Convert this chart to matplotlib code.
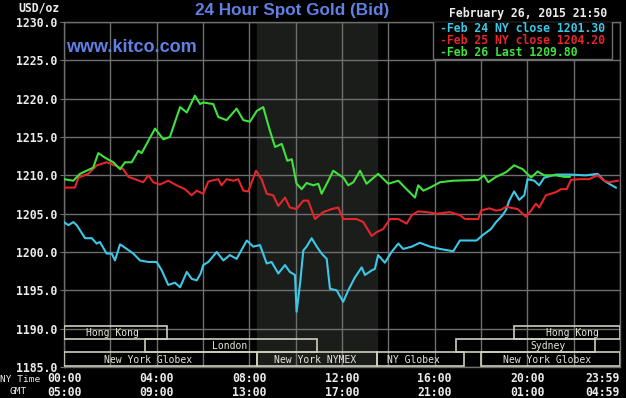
import matplotlib.pyplot as plt
import matplotlib.transforms as mtransforms
from matplotlib.patches import Rectangle

W, H = 626, 398

# --- data (hours NY time, USD/oz) ---
feb26_t = [0.0, 0.40, 0.69, 1.26, 1.48, 1.77, 2.13, 2.42, 2.63, 2.92, 3.21, 3.35, 3.93, 4.29,
           4.57, 5.01, 5.30, 5.65, 5.87, 6.01, 6.44, 6.66, 7.02, 7.45, 7.74, 8.03, 8.32, 8.60,
           8.89, 9.11, 9.40, 9.64, 9.83, 10.04, 10.26, 10.47, 10.76, 10.98, 11.12, 11.41, 11.62,
           11.91, 12.06, 12.27, 12.49, 12.78, 13.06, 13.56, 14.00, 14.43, 14.72, 15.15, 15.29,
           15.51, 15.80, 16.23, 16.80, 17.88, 18.13, 18.31, 18.65, 19.08, 19.43, 19.80, 20.16,
           20.44, 20.73, 21.23, 21.59, 21.83]
feb26_p = [1209.5, 1209.3, 1210.2, 1211.0, 1212.9, 1212.3, 1211.7, 1210.8, 1211.7, 1211.7,
           1213.2, 1212.9, 1216.1, 1214.7, 1215.0, 1218.9, 1218.2, 1220.4, 1219.3, 1219.5,
           1219.3, 1217.6, 1217.2, 1218.7, 1217.2, 1217.0, 1218.4, 1218.9, 1215.8, 1213.7,
           1214.1, 1211.9, 1212.1, 1208.9, 1208.2, 1209.0, 1208.7, 1208.9, 1207.6, 1209.3,
           1210.6, 1210.0, 1209.7, 1208.7, 1209.1, 1210.6, 1208.9, 1210.2, 1208.9, 1209.3,
           1208.4, 1207.1, 1208.7, 1208.0, 1208.4, 1209.1, 1209.3, 1209.4, 1210.0, 1209.1,
           1209.8, 1210.4, 1211.3, 1210.8, 1209.7, 1210.5, 1210.0, 1210.0, 1209.8, 1209.8]

feb25_t = [0.0, 0.47, 0.62, 1.05, 1.41, 1.84, 2.20, 2.56, 2.78, 3.06, 3.42, 3.64, 3.85, 4.14,
           4.50, 4.86, 5.22, 5.51, 5.73, 6.01, 6.23, 6.66, 6.80, 7.02, 7.31, 7.52, 7.74, 7.95,
           8.29, 8.53, 8.75, 9.03, 9.25, 9.54, 9.75, 10.04, 10.33, 10.54, 10.83, 11.19, 11.55,
           11.84, 12.05, 12.63, 12.92, 13.28, 13.50, 13.78, 14.07, 14.43, 14.79, 15.01, 15.29,
           15.65, 16.09, 16.66, 17.09, 17.31, 17.88, 18.00, 18.36, 18.65, 18.86, 19.08, 19.58,
           19.94, 20.16, 20.37, 20.51, 20.80, 21.23, 21.45, 21.70, 21.88, 22.24, 22.67, 23.03,
           23.32, 23.53, 23.91]
feb25_p = [1208.4, 1208.4, 1209.7, 1210.2, 1211.3, 1211.7, 1211.3, 1210.8, 1209.8, 1209.5,
           1209.1, 1210.0, 1209.1, 1208.8, 1209.3, 1208.7, 1208.2, 1207.4, 1208.0, 1207.6,
           1209.2, 1209.5, 1208.7, 1209.5, 1209.3, 1209.5, 1208.0, 1207.9, 1210.6, 1209.5,
           1207.6, 1207.4, 1206.0, 1207.1, 1205.8, 1205.6, 1206.7, 1206.7, 1204.3, 1205.2,
           1205.6, 1205.8, 1204.3, 1204.3, 1203.9, 1202.1, 1202.6, 1203.0, 1204.3, 1204.3,
           1203.7, 1204.8, 1205.3, 1205.2, 1205.0, 1205.2, 1204.8, 1204.3, 1204.3, 1205.4,
           1205.7, 1205.4, 1205.5, 1205.9, 1205.6, 1204.6, 1205.4, 1206.3, 1205.8, 1207.4,
           1207.8, 1208.2, 1208.2, 1209.4, 1209.5, 1209.5, 1210.0, 1209.3, 1209.1, 1209.3]

feb24_t = [0.0, 0.19, 0.40, 0.55, 0.91, 1.20, 1.41, 1.55, 1.84, 2.06, 2.20, 2.42, 2.71, 2.99,
           3.28, 3.64, 4.00, 4.22, 4.50, 4.79, 5.01, 5.30, 5.51, 5.73, 5.90, 6.01, 6.23, 6.59,
           6.88, 7.16, 7.45, 7.89, 8.17, 8.46, 8.75, 8.96, 9.25, 9.54, 9.75, 9.97, 10.04, 10.19,
           10.33, 10.47, 10.69, 10.91, 11.12, 11.34, 11.48, 11.77, 12.05, 12.27, 12.56, 12.85,
           12.99, 13.28, 13.42, 13.56, 13.85, 14.14, 14.43, 14.64, 15.01, 15.36, 15.80, 16.23,
           16.80, 17.09, 17.81, 18.07, 18.43, 18.65, 18.93, 19.08, 19.22, 19.43, 19.65, 19.87,
           20.01, 20.30, 20.51, 20.73, 21.23, 21.81, 22.53, 23.03, 23.32, 23.53, 23.82]
feb24_p = [1203.9, 1203.5, 1203.9, 1203.5, 1201.8, 1201.8, 1201.1, 1201.3, 1199.8, 1199.8,
           1198.9, 1201.0, 1200.4, 1199.8, 1198.9, 1198.7, 1198.7, 1197.6, 1195.7, 1196.0,
           1195.4, 1197.4, 1196.5, 1196.3, 1197.2, 1198.3, 1198.7, 1200.0, 1198.9, 1199.6,
           1199.1, 1201.5, 1200.7, 1200.9, 1198.5, 1198.7, 1197.2, 1198.3, 1197.4, 1197.0,
           1192.2, 1195.9, 1200.2, 1200.7, 1201.8, 1200.7, 1199.8, 1199.1, 1195.2, 1195.0,
           1193.5, 1195.0, 1196.7, 1198.0, 1197.0, 1197.6, 1197.8, 1199.6, 1198.6, 1200.0,
           1201.1, 1200.4, 1200.7, 1201.2, 1200.7, 1200.4, 1200.1, 1201.5, 1201.5, 1202.2,
           1203.0, 1203.9, 1204.8, 1205.5, 1206.7, 1207.9, 1206.8, 1207.4, 1209.5, 1209.3,
           1208.7, 1209.7, 1210.1, 1210.1, 1210.0, 1210.2, 1209.3, 1208.9, 1208.4]

legend_labels = ['-Feb 24 NY close 1201.30', '-Feb 25 NY close 1204.20', '-Feb 26 Last 1209.80']

time_ticks = [0, 4, 8, 12, 16, 20, 23.98]
ny_labels = ['00:00', '04:00', '08:00', '12:00', '16:00', '20:00', '23:59']
gmt_labels = ['05:00', '09:00', '13:00', '17:00', '21:00', '01:00', '04:59']

# market sessions: name, start, end, row (0 = top), label centre (hours)
sessions = [
    ('Hong Kong', 0.0, 4.45, 0, 2.11),
    ('Hong Kong', 19.42, 24.0, 0, 21.93),
    ('London', 3.5, 10.92, 1, 7.16),
    ('Sydney', 16.92, 22.9, 1, 20.89),
    ('New York Globex', 0.0, 8.33, 2, 3.63),
    ('New York NYMEX', 8.33, 13.5, 2, 10.83),
    ('NY Globex', 13.5, 17.25, 2, 15.1),
    ('New York Globex', 18.0, 24.0, 2, 20.85),
]
nymex_open, nymex_close = 8.33, 13.5

# --- style ---
CYAN, RED, GREEN = '#3cc8e6', '#e4262a', '#40e23c'
GRID = '#6e6e6e'
MONO = 'DejaVu Sans Mono'
TXT = '#ececec'
BLUE = '#6080e4'

def fx(x):
    return x / W

def fy(y):
    return 1 - y / H

fig = plt.figure(figsize=(W / 100, H / 100), dpi=100, facecolor='black')
ax = fig.add_axes([fx(64), fy(367), 556 / W, 345 / H])
ax.set_facecolor('black')
ax.set_xlim(0, 24)
ax.set_ylim(1185, 1230)

ax.axvspan(nymex_open, nymex_close, color='#1b1d1b', zorder=0)

ax.set_xticks(range(0, 25, 2))
ax.set_yticks(range(1185, 1231, 5))
ax.grid(True, color=GRID, lw=1.0, zorder=1)
ax.set_axisbelow(True)
ax.tick_params(axis='x', length=0, labelbottom=False)
ax.tick_params(axis='y', length=3, color=GRID, pad=2, labelcolor=TXT)
ax.set_yticklabels([f'{v:.1f}' for v in range(1185, 1231, 5)],
                   family=MONO, fontweight='bold', fontsize=8.3)
for s in ax.spines.values():
    s.set_color(GRID)
    s.set_linewidth(1.0)

ax.plot(feb24_t, feb24_p, color=CYAN, lw=1.5, zorder=3)
ax.plot(feb25_t, feb25_p, color=RED, lw=1.5, zorder=4)
ax.plot(feb26_t, feb26_p, color=GREEN, lw=1.5, zorder=5)

# market session boxes at the bottom
row_edges = [(1188.6, 1190.3), (1186.9, 1188.6), (1185.1, 1186.9)]
for name, t0, t1, row, tc in sessions:
    y0, y1 = row_edges[row]
    ax.add_patch(Rectangle((t0, y0), t1 - t0, y1 - y0, fill=False,
                           edgecolor='#cfcfbc', lw=1.2, zorder=6))
    ax.text(tc, (y0 + y1) / 2 - 0.05, name, ha='center', va='center', color='#e6e6da',
            family=MONO, fontsize=7.0, zorder=7)

# legend box
ax.add_patch(Rectangle((fx(433), fy(59)), (612 - 433) / W, (59 - 21) / H,
                       transform=fig.transFigure, facecolor='black',
                       edgecolor=GRID, lw=1.0, zorder=8))
for lab, col, y in zip(legend_labels, [CYAN, RED, GREEN], [28, 40, 52]):
    fig.text(fx(440), fy(y), lab, color=col, family=MONO, fontweight='bold',
             fontsize=8.3, va='center', ha='left', zorder=9)

# time axis labels
tr = mtransforms.blended_transform_factory(ax.transData, fig.transFigure)
for i, (t, a, b) in enumerate(zip(time_ticks, ny_labels, gmt_labels)):
    ha = 'right' if i == len(time_ticks) - 1 else 'center'
    xx = 24.0 if ha == 'right' else t
    ax.text(xx, fy(378), a, transform=tr, ha=ha, va='center', color=TXT,
            family=MONO, fontweight='bold', fontsize=8.3, clip_on=False)
    ax.text(xx, fy(392.5), b, transform=tr, ha=ha, va='center', color=TXT,
            family=MONO, fontweight='bold', fontsize=8.3, clip_on=False)
fig.text(fx(0), fy(379.5), 'NY Time', color=TXT, family=MONO, fontsize=6.8,
         ha='left', va='center')
fig.text(fx(18), fy(392), 'GMT', color=TXT, family=MONO, fontsize=6.8,
         ha='center', va='center')

# headers
fig.text(fx(60), fy(8), 'USD/oz', color=TXT, family=MONO, fontweight='bold',
         fontsize=8.3, ha='right', va='center')
fig.text(fx(292), fy(10), '24 Hour Spot Gold (Bid)', color=BLUE,
         family='Liberation Sans', fontweight='bold', fontsize=12.3,
         ha='center', va='center')
fig.text(fx(607), fy(14), 'February 26, 2015 21:50', color=TXT, family=MONO,
         fontweight='bold', fontsize=8.3, ha='right', va='center')
ax.text(fx(66), fy(47.5), 'www.kitco.com', transform=fig.transFigure, color=BLUE,
        family='Liberation Sans', fontweight='bold', fontsize=13, ha='left',
        va='center', zorder=9)

fig.savefig('out.png', dpi=100, facecolor='black')
